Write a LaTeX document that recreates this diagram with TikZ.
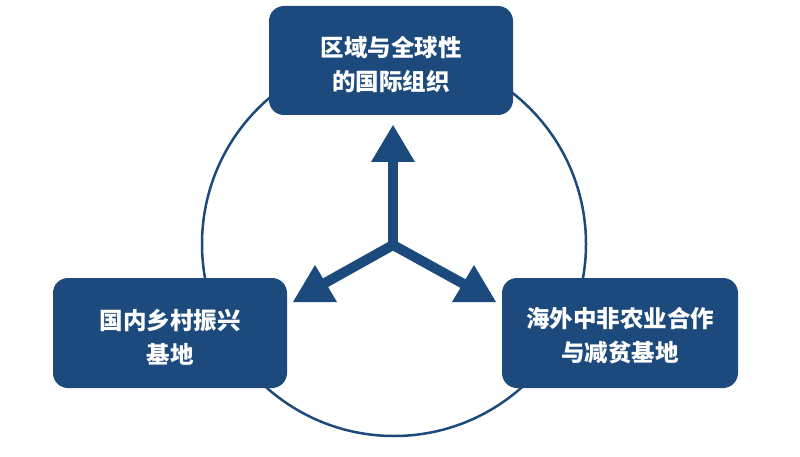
\documentclass[tikz,border=0pt]{standalone}
\usepackage{fontspec}
\newfontfamily\cjk{Noto Sans CJK SC}
\definecolor{navy}{HTML}{1D4A7D}
\begin{document}
\begin{tikzpicture}[x=1pt,y=-1pt,
  box/.style={fill=navy, rounded corners=15pt, inner sep=0pt},
  label text/.style={text=white, font=\cjk\bfseries\fontsize{23.5}{34}\selectfont, align=center, inner sep=0pt},
  stem/.style={draw=navy, line width=10pt, line join=miter},
  head/.style={fill=navy}]
\useasboundingbox (0,0) rectangle (800,457);
\fill[white] (0,0) rectangle (800,457);
\draw[navy, line width=2.5pt] (394,244) circle[radius=192pt];
\node[box, minimum width=244pt, minimum height=109pt] (top) at (391,60.5) {};
\node[box, minimum width=234pt, minimum height=110pt] (left) at (170,333) {};
\node[box, minimum width=236pt, minimum height=110pt] (right) at (620,333) {};
\node[label text] (toptext) at ([yshift=-3.5pt]top.center) {区域与全球性\\的国际组织};
\node[label text] (lefttext) at ([yshift=-4pt]left.center) {国内乡村振兴\\基地};
\node[label text] (righttext) at ([yshift=-3pt]right.center) {海外中非农业合作\\与减贫基地};
\coordinate (c) at (393,245);
\coordinate (u) at (393,158);
\coordinate (l) at (316,288);
\coordinate (r) at (471,288);
\draw[stem] (l) -- (c) -- (r);
\draw[stem] (c) -- (u);
\fill[head] (371,162) -- (393,125) -- (415,162) -- cycle;
\fill[head] (293,302) -- (315,265) -- (337,302) -- cycle;
\fill[head] (452,302) -- (474,265) -- (496,302) -- cycle;
\end{tikzpicture}
\end{document}
